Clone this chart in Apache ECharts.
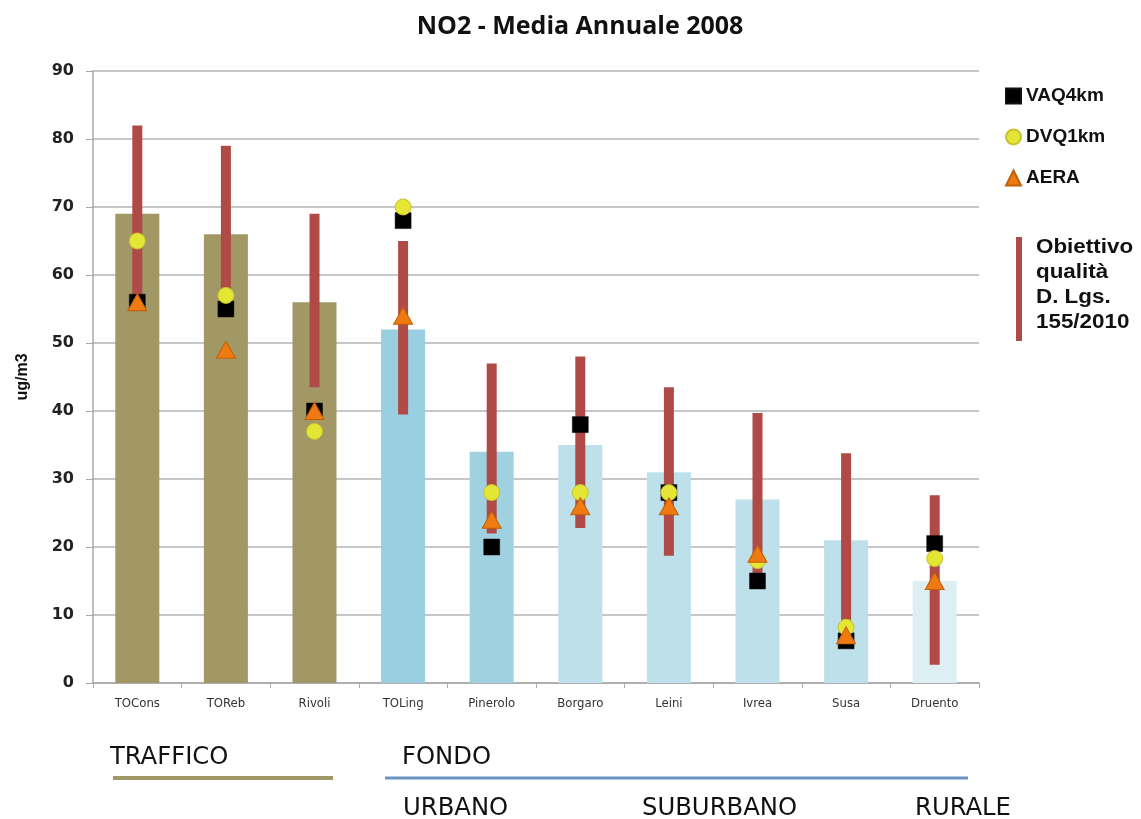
<!DOCTYPE html>
<html>
<head>
<meta charset="utf-8">
<title>NO2 - Media Annuale 2008</title>
<script src="https://cdn.jsdelivr.net/npm/echarts@6/dist/echarts.min.js"></script>
<style>
  html, body { margin: 0; padding: 0; background: #fff; }
  #chart { width: 1141px; height: 819px; }
</style>
</head>
<body>
<div id="chart"></div>
<script>
// Stations (monitoring sites)
const stations = ['TOCons', 'TOReb', 'Rivoli', 'TOLing', 'Pinerolo', 'Borgaro', 'Leini', 'Ivrea', 'Susa', 'Druento'];
// Measured annual mean NO2 (ug/m3)
const measured = [69, 66, 56, 52, 34, 35, 31, 27, 21, 15];
// Quality objective range (D. Lgs. 155/2010)
const objLow  = [56.5, 54, 43.5, 39.5, 22, 22.8, 18.7, 15, 8.8, 2.7];
const objHigh = [82, 79, 69, 65, 47, 48, 43.5, 39.7, 33.8, 27.6];
// Model results
const vaq4km = [56, 55, 40, 68, 20, 38, 28, 15, 6.2, 20.5];
const dvq1km = [65, 57, 37, 70, 28, 28, 28, 18, 8.2, 18.3];
const aera   = [56, 49, 40, 54, 24, 26, 26, 19, 7, 15];
// Station type colours: traffic, urban background, suburban, rural
const barColors = ['#a19866', '#a19866', '#a19866', '#99cfe0', '#a0d1e1', '#bde0ea', '#bde0ea', '#bde0ea', '#bde0ea', '#deeff4'];
const yTicks = { min: 0, max: 90, step: 10 };

const RED = '#b04a46';
const OLIVE = '#a19866';
const BLUE = '#6b93c4';
const LABEL_FONT = 'DejaVu Sans Condensed';

const chart = echarts.init(document.getElementById('chart'), null, { renderer: 'canvas' });

function groupLabel(text, x, y) {
  return {
    type: 'text', x: x, y: y, scaleX: 1.08,
    style: { text: text, fontFamily: LABEL_FONT, fontSize: 25, fill: '#111', textVerticalAlign: 'middle' }
  };
}

const option = {
  backgroundColor: '#ffffff',
  animation: false,
  grid: { left: 93, right: 162, top: 71, bottom: 136 },
  legend: {
    orient: 'vertical',
    left: 1000,
    top: 80,
    itemWidth: 15,
    itemHeight: 15,
    itemGap: 19,
    data: ['VAQ4km', 'DVQ1km', 'AERA'],
    textStyle: { fontFamily: 'Liberation Sans', fontWeight: 'bold', fontSize: 19, color: '#111', lineHeight: 22 }
  },
  xAxis: {
    type: 'category',
    data: stations,
    axisLine: { lineStyle: { color: '#a8a8a8', width: 1.5 } },
    axisTick: { show: true, length: 5, lineStyle: { color: '#a8a8a8' } },
    axisLabel: { fontFamily: LABEL_FONT, fontSize: 13, color: '#333', margin: 14 }
  },
  yAxis: {
    type: 'value',
    min: yTicks.min,
    max: yTicks.max,
    interval: yTicks.step,
    name: 'ug/m3',
    nameLocation: 'middle',
    nameGap: 62,
    nameTextStyle: { fontFamily: 'Liberation Sans', fontWeight: 'bold', fontSize: 16, color: '#111' },
    axisLine: { show: true, lineStyle: { color: '#a8a8a8', width: 1.5 } },
    axisTick: { show: true, length: 7, lineStyle: { color: '#a8a8a8' } },
    axisLabel: { fontFamily: 'DejaVu Sans', fontWeight: 'bold', fontSize: 16, color: '#222', margin: 19 },
    splitLine: { lineStyle: { color: '#b4b4b4', width: 1.5 } }
  },
  series: [
    {
      name: 'Misurato',
      type: 'bar',
      barWidth: 44,
      data: measured.map((v, i) => ({ value: v, itemStyle: { color: barColors[i] } })),
      z: 2
    },
    {
      name: 'Obiettivo qualità',
      type: 'custom',
      z: 3,
      renderItem: function (params, api) {
        const lo = api.coord([api.value(0), api.value(1)]);
        const hi = api.coord([api.value(0), api.value(2)]);
        const w = 10;
        return {
          type: 'rect',
          shape: { x: lo[0] - w / 2, y: hi[1], width: w, height: lo[1] - hi[1] },
          style: { fill: RED }
        };
      },
      encode: { x: 0, y: [1, 2] },
      data: stations.map((s, i) => [i, objLow[i], objHigh[i]])
    },
    {
      name: 'VAQ4km',
      type: 'scatter',
      symbol: 'rect',
      symbolSize: 16,
      itemStyle: { color: '#000000', borderColor: '#111', borderWidth: 0.5, opacity: 1 },
      data: vaq4km,
      z: 4
    },
    {
      name: 'DVQ1km',
      type: 'scatter',
      symbol: 'circle',
      symbolSize: 16,
      itemStyle: { color: '#e4e636', borderColor: '#c9c22a', borderWidth: 1, opacity: 1 },
      data: dvq1km,
      z: 4
    },
    {
      name: 'AERA',
      type: 'scatter',
      symbol: 'triangle',
      symbolSize: [19, 17],
      itemStyle: { color: '#ee7a12', borderColor: '#c4600a', borderWidth: 1, opacity: 1 },
      data: aera,
      z: 4
    }
  ],
  graphic: [
    {
      type: 'text',
      x: 580, y: 27,
      style: {
        text: 'NO2 - Media Annuale 2008',
        fontFamily: 'Open Sans', fontWeight: 'bold', fontSize: 25, fill: '#111',
        textAlign: 'center', textVerticalAlign: 'middle'
      }
    },
    // quality objective legend entry
    { type: 'rect', shape: { x: 1016, y: 237, width: 6, height: 104 }, style: { fill: RED } },
    {
      type: 'text',
      x: 1036, y: 235, scaleX: 1.12,
      style: {
        text: 'Obiettivo\nqualità\nD. Lgs.\n155/2010',
        fontFamily: 'Liberation Sans', fontWeight: 'bold', fontSize: 20, lineHeight: 25, fill: '#111',
        textAlign: 'left', textVerticalAlign: 'top'
      }
    },
    // station type groups
    groupLabel('TRAFFICO', 110, 757),
    { type: 'line', shape: { x1: 113, y1: 778, x2: 333, y2: 778 }, style: { stroke: OLIVE, lineWidth: 4 } },
    groupLabel('FONDO', 402, 757),
    { type: 'line', shape: { x1: 385, y1: 778, x2: 968, y2: 778 }, style: { stroke: BLUE, lineWidth: 3 } },
    groupLabel('URBANO', 403, 808),
    groupLabel('SUBURBANO', 642, 808),
    groupLabel('RURALE', 915, 808)
  ]
};

chart.setOption(option);
</script>
</body>
</html>
